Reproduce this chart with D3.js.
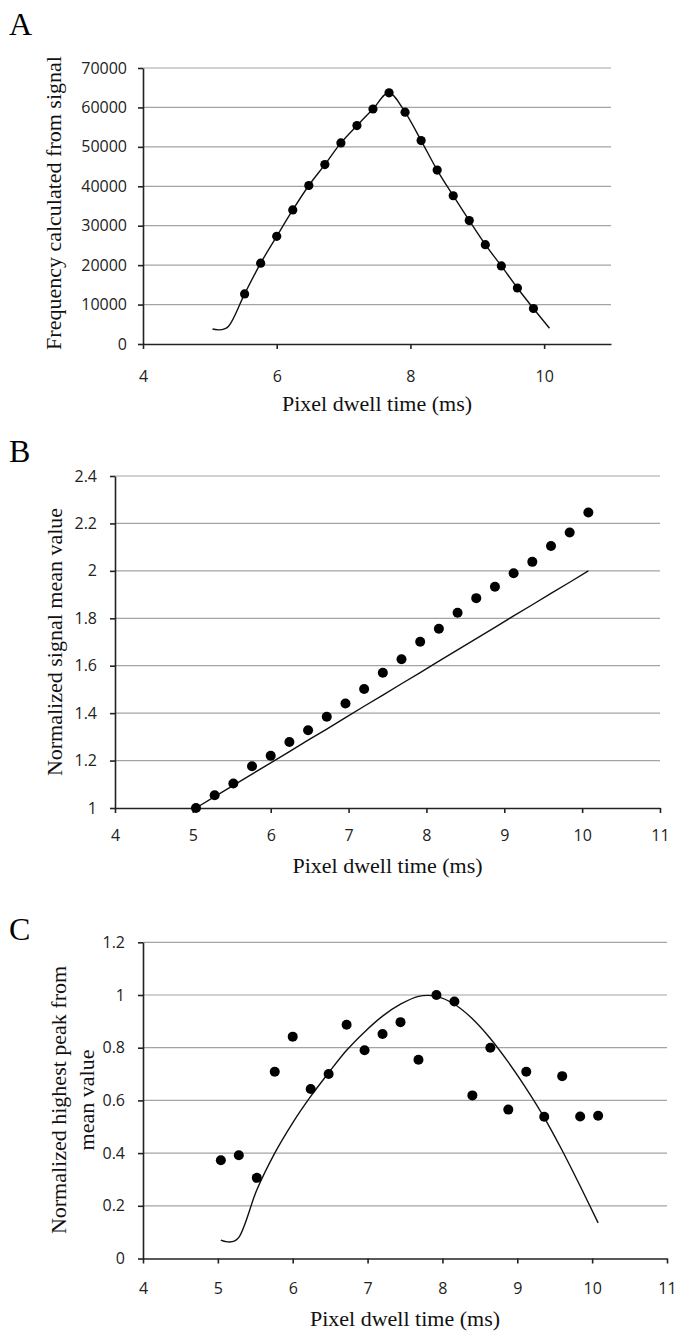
<!DOCTYPE html>
<html>
<head>
<meta charset="utf-8">
<script src="https://cdnjs.cloudflare.com/ajax/libs/d3/7.8.5/d3.min.js"></script>
<style>
  body { margin: 0; background: #fff; }
  svg { display: block; }
</style>
</head>
<body>
<script>
// pixel dwell times (ms), shared by all three panels
var dwellTimes = [5.04, 5.28, 5.52, 5.76, 6.00, 6.24, 6.48, 6.72, 6.96, 7.20, 7.44,
                  7.68, 7.92, 8.16, 8.40, 8.64, 8.88, 9.12, 9.36, 9.60, 9.84, 10.08];

// A: frequency calculated from signal
var freqPoints = [null, null, 12700, 20500, 27300, 34000, 40200, 45500, 51000, 55400, 59600,
                  63700, 58800, 51600, 44100, 37600, 31300, 25200, 19800, 14200, 9000, null];
var freqCurve = [3800, 4500, 12700, 20500, 27300, 34000, 40200, 45500, 51000, 55400, 59600,
                 63700, 58800, 51600, 44100, 37600, 31300, 25200, 19800, 14200, 9000, 4000];

// B: normalized signal mean value
var meanPoints = [1.000, 1.054, 1.103, 1.176, 1.220, 1.278, 1.328, 1.385, 1.441, 1.502, 1.570,
                  1.627, 1.701, 1.756, 1.823, 1.885, 1.933, 1.990, 2.038, 2.105, 2.162, 2.246];
var meanLine = [1.000, 1.048, 1.095, 1.143, 1.190, 1.238, 1.286, 1.333, 1.381, 1.429, 1.476,
                1.524, 1.571, 1.619, 1.667, 1.714, 1.762, 1.810, 1.857, 1.905, 1.952, 2.000];

// C: normalized highest peak from mean value
var peakPoints = [0.373, 0.392, 0.306, 0.709, 0.842, 0.643, 0.700, 0.887, 0.790, 0.852, 0.897,
                  0.754, 1.000, 0.975, 0.619, 0.800, 0.565, 0.709, 0.538, 0.692, 0.539, 0.542];
var peakCurve = [0.070, 0.080, 0.260, 0.400, 0.515, 0.615, 0.705, 0.790, 0.860, 0.920, 0.965,
                 0.995, 0.995, 0.965, 0.910, 0.835, 0.745, 0.645, 0.535, 0.410, 0.275, 0.135];

// tick values
var xTicksA = [4, 6, 8, 10];
var yTicksA = [0, 10000, 20000, 30000, 40000, 50000, 60000, 70000];
var xTicksBC = [4, 5, 6, 7, 8, 9, 10, 11];
var yTicksB = [1, 1.2, 1.4, 1.6, 1.8, 2, 2.2, 2.4];
var yTicksC = [0, 0.2, 0.4, 0.6, 0.8, 1, 1.2];

var W = 677, H = 1334;
var SERIF = '"Liberation Serif", "Times New Roman", serif';
var SANS = '"Open Sans", "Noto Sans", sans-serif';

var svg = d3.select('body').append('svg')
  .attr('width', W)
  .attr('height', H);

svg.append('rect').attr('width', W).attr('height', H).attr('fill', '#fff');

function decimalFmt(d) { return String(+d.toFixed(1)); }

function drawPanel(p) {
  var x = d3.scaleLinear().domain([4, 11]).range([p.left, p.right]);
  var y = d3.scaleLinear().domain(p.yDomain).range([p.bottom, p.top]);
  var g = svg.append('g');

  // horizontal gridlines
  g.append('g').selectAll('line')
      .data(p.yTicks.filter(function(d) { return d !== p.yDomain[0]; }))
    .enter().append('line')
      .attr('x1', p.left)
      .attr('x2', p.right)
      .attr('y1', function(d) { return y(d); })
      .attr('y2', function(d) { return y(d); })
      .attr('stroke', '#a3a3a3')
      .attr('stroke-width', 1.2);

  var yAxis = g.append('g')
    .attr('transform', 'translate(' + p.left + ',0)')
    .call(d3.axisLeft(y).tickValues(p.yTicks).tickSize(5).tickSizeOuter(0)
      .tickPadding(p.yPad).tickFormat(p.yFmt));

  var xAxis = g.append('g')
    .attr('transform', 'translate(0,' + p.bottom + ')')
    .call(d3.axisBottom(x).tickValues(p.xTicks).tickSize(5).tickSizeOuter(0)
      .tickPadding(p.xPad).tickFormat(d3.format('d')));

  [yAxis, xAxis].forEach(function(a) {
    a.select('.domain').attr('stroke', '#222').attr('stroke-width', 1.6);
    a.selectAll('.tick line').attr('stroke', '#222').attr('stroke-width', 1.6);
    a.selectAll('.tick text')
      .attr('fill', '#222')
      .style('font-family', SANS)
      .style('font-size', '16px');
  });

  // fitted / theoretical line
  var line = d3.line()
    .defined(function(d) { return d[1] != null; })
    .x(function(d) { return x(d[0]); })
    .y(function(d) { return y(d[1]); })
    .curve(p.curve);

  g.append('path')
    .datum(dwellTimes.map(function(t, i) { return [t, p.line[i]]; }))
    .attr('d', line)
    .attr('fill', 'none')
    .attr('stroke', '#111')
    .attr('stroke-width', 1.4);

  // measured points
  g.append('g').selectAll('circle')
      .data(dwellTimes.map(function(t, i) { return [t, p.points[i]]; })
        .filter(function(d) { return d[1] != null; }))
    .enter().append('circle')
      .attr('cx', function(d) { return x(d[0]); })
      .attr('cy', function(d) { return y(d[1]); })
      .attr('r', p.r)
      .attr('fill', '#000');

  // panel letter
  g.append('text')
    .attr('x', 9)
    .attr('y', p.letterY)
    .text(p.letter)
    .style('font-family', SERIF)
    .style('font-size', '32px')
    .attr('fill', '#000');

  // x title
  g.append('text')
    .attr('x', (p.left + x(11)) / 2)
    .attr('y', p.xTitleY)
    .attr('text-anchor', 'middle')
    .text('Pixel dwell time (ms)')
    .style('font-family', SERIF)
    .style('font-size', '22px')
    .attr('fill', '#111');

  // y title (one or more lines)
  p.yTitle.forEach(function(s, i) {
    g.append('text')
      .attr('transform', 'translate(' + p.yTitleX[i] + ',' + p.yTitleY + ') rotate(-90)')
      .attr('text-anchor', 'middle')
      .attr('dy', '0.35em')
      .text(s)
      .style('font-family', SERIF)
      .style('font-size', '22px')
      .attr('fill', '#111');
  });
}

drawPanel({
  letter: 'A', letterY: 35,
  left: 143, right: 611, top: 68, bottom: 344,
  yDomain: [0, 70000], yTicks: yTicksA, xTicks: xTicksA,
  yFmt: d3.format('d'), yPad: 11, xPad: 22,
  line: freqCurve, points: freqPoints, r: 4.6,
  curve: d3.curveCardinal.tension(0),
  xTitleY: 411,
  yTitle: ['Frequency calculated from signal'], yTitleX: [53], yTitleY: 203
});

drawPanel({
  letter: 'B', letterY: 462,
  left: 115, right: 660, top: 476, bottom: 808,
  yDomain: [1, 2.4], yTicks: yTicksB, xTicks: xTicksBC,
  yFmt: decimalFmt, yPad: 13, xPad: 17,
  line: meanLine, points: meanPoints, r: 5,
  curve: d3.curveLinear,
  xTitleY: 873,
  yTitle: ['Normalized signal mean value'], yTitleX: [54], yTitleY: 642
});

drawPanel({
  letter: 'C', letterY: 940,
  left: 143, right: 667, top: 942.3, bottom: 1258.5,
  yDomain: [0, 1.2], yTicks: yTicksC, xTicks: xTicksBC,
  yFmt: decimalFmt, yPad: 13, xPad: 19,
  line: peakCurve, points: peakPoints, r: 5,
  curve: d3.curveCardinal.tension(0),
  xTitleY: 1326,
  yTitle: ['Normalized highest peak from', 'mean value'], yTitleX: [58, 86], yTitleY: 1100
});
</script>
</body>
</html>
